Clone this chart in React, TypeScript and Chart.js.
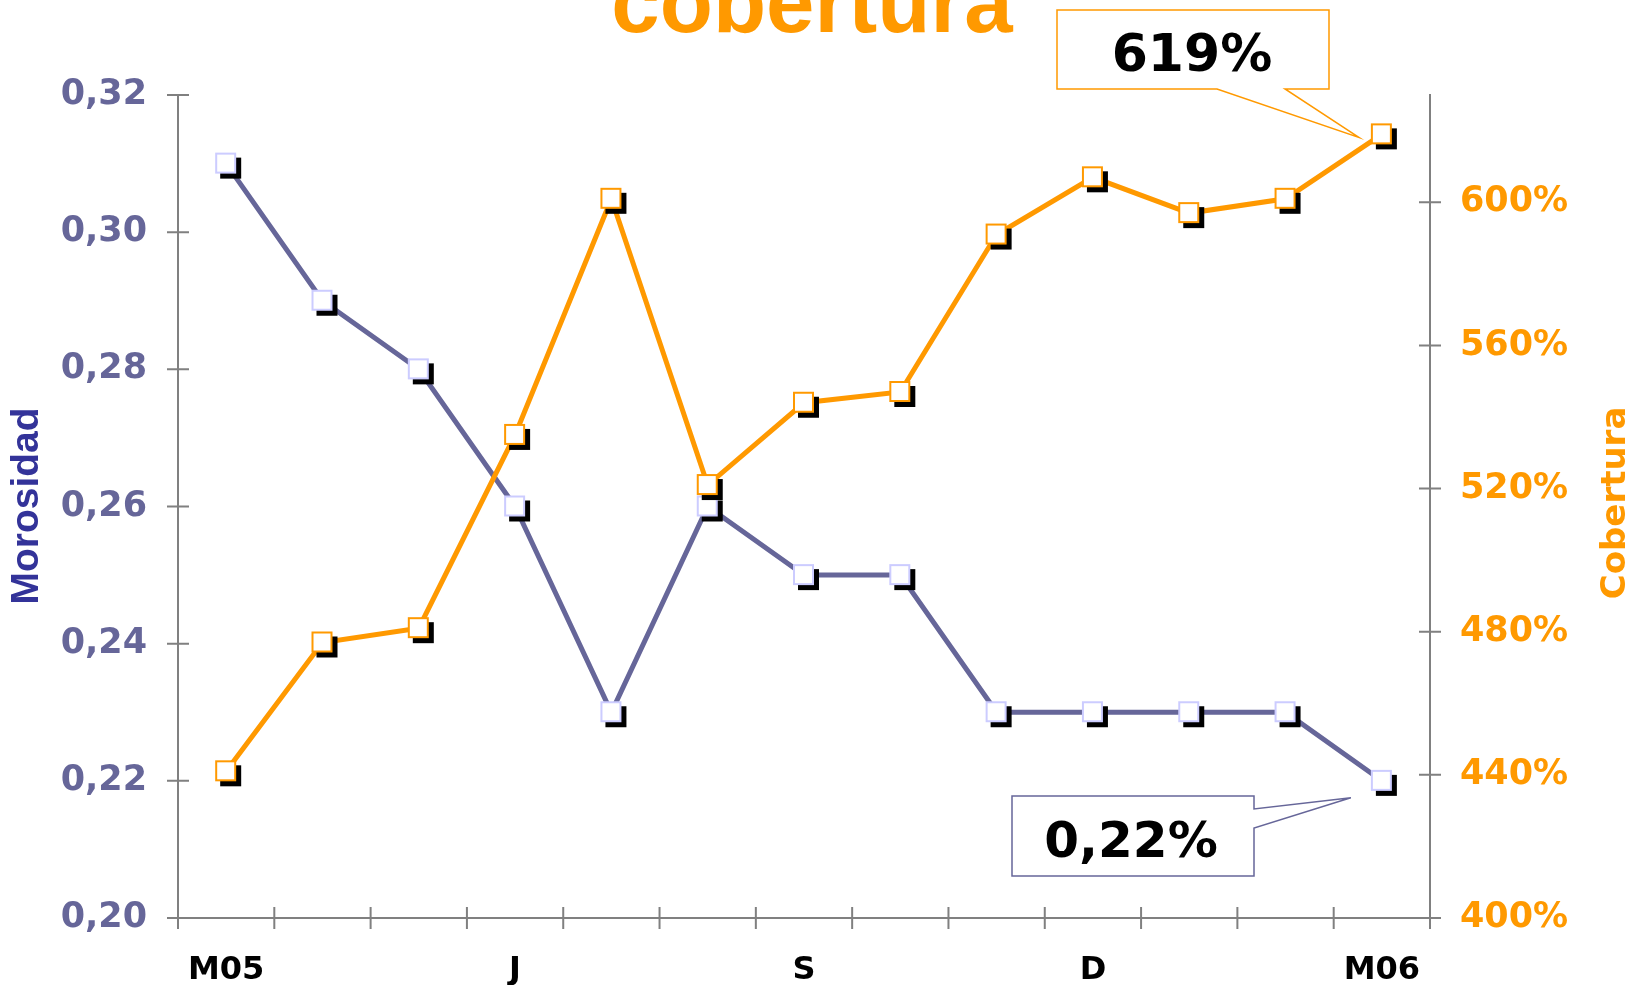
import { useEffect, useRef } from 'react';
import { Chart, registerables } from 'chart.js';

Chart.register(...registerables);

// ---- data ----
const categories = ['M05', '', '', 'J', '', '', 'S', '', '', 'D', '', '', 'M06'];
const morosidad = [0.31, 0.29, 0.28, 0.26, 0.23, 0.26, 0.25, 0.25, 0.23, 0.23, 0.23, 0.23, 0.22];
const cobertura = [441, 477, 481, 535, 601, 521, 544, 547, 591, 607, 597, 601, 619];
const leftAxis = { min: 0.2, max: 0.32, step: 0.02 };
const rightAxis = { min: 400, max: 630, step: 40, lastLabel: 600 };
const titleText = 'cobertura';
const leftTitle = 'Morosidad';
const rightTitle = 'Cobertura';
const calloutCobertura = '619%';
const calloutMorosidad = '0,22%';

const BLUE = '#666699';
const ORANGE = '#FF9900';
const AXIS = '#808080';

function makeMarker(border: string): HTMLCanvasElement {
  const c = document.createElement('canvas');
  c.width = 34;
  c.height = 34;
  const g = c.getContext('2d')!;
  g.fillStyle = '#000';
  g.fillRect(11, 11, 21, 21);
  g.fillStyle = '#fff';
  g.fillRect(6, 6, 21, 21);
  g.strokeStyle = border;
  g.lineWidth = 2;
  g.strokeRect(7, 7, 19, 19);
  return c;
}

const decorPlugin = {
  id: 'decor',
  afterDraw(chart: any) {
    const ctx: CanvasRenderingContext2D = chart.ctx;
    const xs = chart.scales.x;
    const yl = chart.scales.y;
    const yr = chart.scales.y1;
    ctx.save();
    // tick marks crossing the axes
    ctx.strokeStyle = AXIS;
    ctx.lineWidth = 2;
    ctx.beginPath();
    yl.ticks.forEach((t: any) => {
      const y = yl.getPixelForValue(t.value);
      ctx.moveTo(yl.right - 11, y);
      ctx.lineTo(yl.right + 11, y);
    });
    yr.ticks.forEach((t: any) => {
      const y = yr.getPixelForValue(t.value);
      ctx.moveTo(yr.left - 11, y);
      ctx.lineTo(yr.left + 11, y);
    });
    const p0 = xs.getPixelForValue(0);
    const step = xs.getPixelForValue(1) - p0;
    for (let i = 0; i <= categories.length; i++) {
      const x = p0 + (i - 0.5) * step;
      ctx.moveTo(x, xs.top - 11);
      ctx.lineTo(x, xs.top + 11);
    }
    ctx.stroke();

    // title
    ctx.fillStyle = ORANGE;
    ctx.font = 'bold 87px "Liberation Sans", Arial, sans-serif';
    ctx.textAlign = 'center';
    ctx.textBaseline = 'alphabetic';
    ctx.fillText(titleText, 812, 32);

    // axis titles
    ctx.save();
    ctx.translate(27, 506);
    ctx.rotate(-Math.PI / 2);
    ctx.fillStyle = '#333399';
    ctx.font = 'bold 39px "Liberation Sans", Arial, sans-serif';
    ctx.textBaseline = 'middle';
    ctx.fillText(leftTitle, 0, 0);
    ctx.restore();

    ctx.save();
    ctx.translate(1616, 503);
    ctx.rotate(-Math.PI / 2);
    ctx.fillStyle = ORANGE;
    ctx.font = 'bold 34px "DejaVu Sans", Verdana, sans-serif';
    ctx.textBaseline = 'middle';
    ctx.fillText(rightTitle, 0, 0);
    ctx.restore();

    // callouts
    const last = categories.length - 1;
    const pc = chart.getDatasetMeta(0).data[last];
    const pm = chart.getDatasetMeta(1).data[last];

    // cobertura callout
    const tipC = { x: pc.x - 23, y: pc.y + 3 };
    ctx.beginPath();
    ctx.moveTo(1057, 10);
    ctx.lineTo(1329, 10);
    ctx.lineTo(1329, 89);
    ctx.lineTo(1285, 89);
    ctx.lineTo(tipC.x, tipC.y);
    ctx.lineTo(1217, 89);
    ctx.lineTo(1057, 89);
    ctx.closePath();
    ctx.fillStyle = '#fff';
    ctx.fill();
    ctx.strokeStyle = ORANGE;
    ctx.lineWidth = 1.5;
    ctx.stroke();
    ctx.fillStyle = '#000';
    ctx.font = 'bold 52px "DejaVu Sans", Verdana, sans-serif';
    ctx.textAlign = 'center';
    ctx.textBaseline = 'alphabetic';
    ctx.fillText(calloutCobertura, 1192, 71);

    // morosidad callout
    const tipM = { x: pm.x - 31, y: pm.y + 17 };
    ctx.beginPath();
    ctx.moveTo(1012, 796);
    ctx.lineTo(1254, 796);
    ctx.lineTo(1254, 809);
    ctx.lineTo(tipM.x, tipM.y);
    ctx.lineTo(1254, 828);
    ctx.lineTo(1254, 876);
    ctx.lineTo(1012, 876);
    ctx.closePath();
    ctx.fillStyle = '#fff';
    ctx.fill();
    ctx.strokeStyle = BLUE;
    ctx.lineWidth = 1.5;
    ctx.stroke();
    ctx.fillStyle = '#000';
    ctx.font = 'bold 50px "DejaVu Sans", Verdana, sans-serif';
    ctx.fillText(calloutMorosidad, 1131, 857);

    ctx.restore();
  },
};

export default function App() {
  const ref = useRef<HTMLCanvasElement | null>(null);

  useEffect(() => {
    document.body.style.margin = '0';
    const canvas = ref.current;
    if (!canvas) return;
    const tickFont = { family: '"DejaVu Sans", Verdana, sans-serif', size: 35, weight: 'bold' as const };
    const chart = new Chart(canvas, {
      type: 'line',
      data: {
        labels: categories,
        datasets: [
          {
            label: 'Cobertura',
            data: cobertura,
            yAxisID: 'y1',
            borderColor: ORANGE,
            borderWidth: 5,
            tension: 0,
            pointStyle: makeMarker(ORANGE) as any,
            pointRadius: 10,
          },
          {
            label: 'Morosidad',
            data: morosidad,
            yAxisID: 'y',
            borderColor: BLUE,
            borderWidth: 5,
            tension: 0,
            pointStyle: makeMarker('#CCCCFF') as any,
            pointRadius: 10,
          },
        ],
      },
      options: {
        responsive: false,
        animation: false,
        devicePixelRatio: 1,
        layout: { padding: { top: 95, left: 0, right: 0, bottom: 0 } },
        plugins: { legend: { display: false }, tooltip: { enabled: false }, title: { display: false } },
        scales: {
          x: {
            offset: true,
            grid: { display: false, drawTicks: false, offset: true },
            border: { display: true, color: AXIS, width: 2 },
            ticks: {
              autoSkip: false,
              maxRotation: 0,
              padding: 33,
              color: '#000',
              font: { family: '"DejaVu Sans", Verdana, sans-serif', size: 32, weight: 'bold' },
            },
            afterFit: (s: any) => {
              s.height = 67;
            },
          },
          y: {
            position: 'left',
            min: leftAxis.min,
            max: leftAxis.max,
            grid: { display: false, drawTicks: false },
            border: { display: true, color: AXIS, width: 2 },
            ticks: {
              stepSize: leftAxis.step,
              padding: 31,
              color: BLUE,
              font: tickFont,
              callback: (v: any) => Number(v).toFixed(2).replace('.', ','),
            },
            afterFit: (s: any) => {
              s.width = 178;
            },
          },
          y1: {
            position: 'right',
            min: rightAxis.min,
            max: rightAxis.max,
            grid: { display: false, drawTicks: false },
            border: { display: true, color: AXIS, width: 2 },
            ticks: {
              stepSize: rightAxis.step,
              padding: 30,
              color: ORANGE,
              font: tickFont,
              callback: (v: any) => `${v}%`,
            },
            afterBuildTicks: (s: any) => {
              s.ticks = s.ticks.filter((t: any) => t.value <= rightAxis.lastLabel);
            },
            afterFit: (s: any) => {
              s.width = 209;
            },
          },
        },
      },
      plugins: [decorPlugin],
    });
    return () => chart.destroy();
  }, []);

  return (
    <div style={{ position: 'absolute', left: 0, top: 0, width: 1639, height: 985 }}>
      <canvas ref={ref} width={1639} height={985} style={{ display: 'block' }} />
    </div>
  );
}
